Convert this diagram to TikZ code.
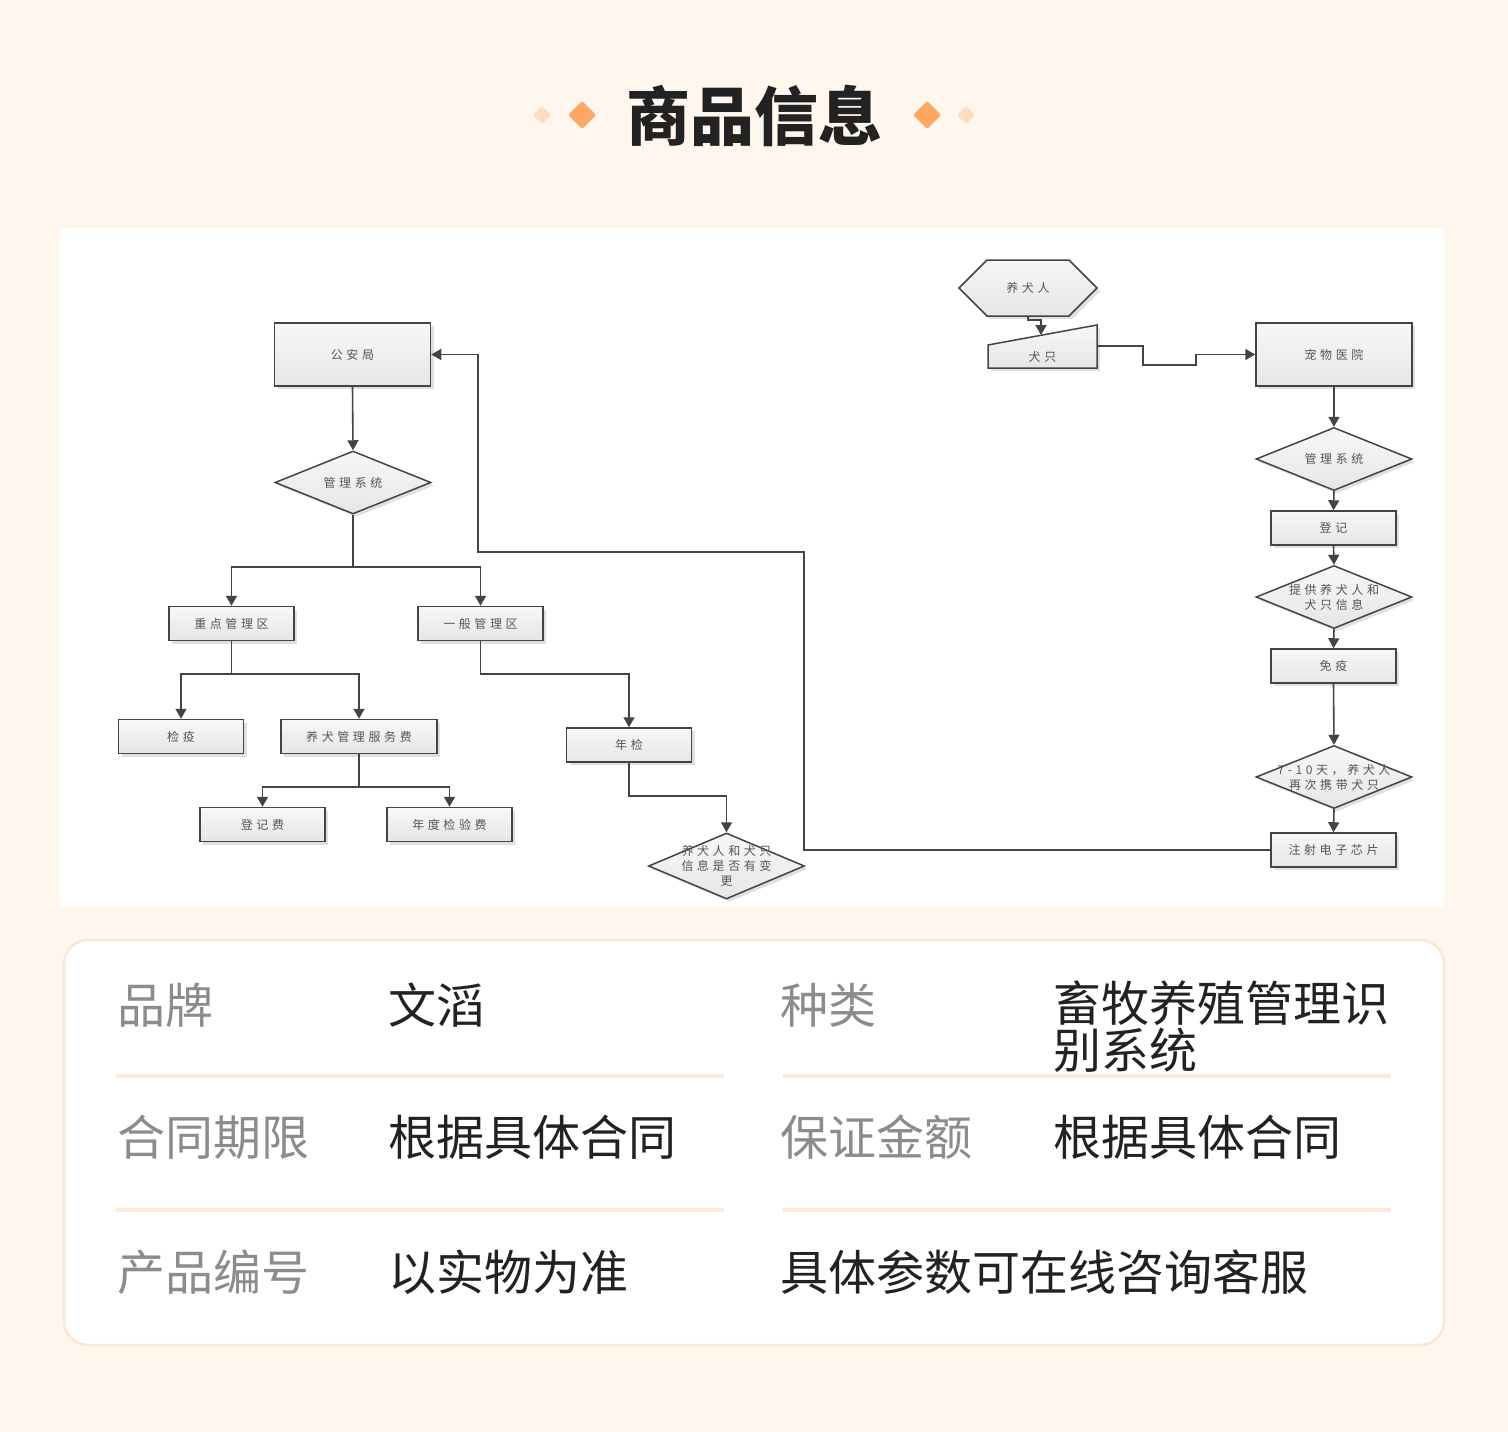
\documentclass[tikz,border=0pt]{standalone}
\usepackage{fontspec}
\setmainfont{Noto Sans CJK SC}
\newfontfamily\diafont{Noto Sans CJK SC}[LetterSpace=30]
\usetikzlibrary{arrows.meta,shapes.geometric,shadows,calc}
\definecolor{bgc}{HTML}{FFF6EE}
\definecolor{cardline}{HTML}{FCE6D4}
\definecolor{sepline}{HTML}{FDEADB}
\definecolor{orangeA}{HTML}{FDA865}
\definecolor{orangeB}{HTML}{FDDDC0}
\definecolor{linec}{HTML}{444444}
\definecolor{txtc}{HTML}{555555}
\definecolor{boxbot}{HTML}{E6E6E6}
\definecolor{labc}{HTML}{8C8C8C}
\definecolor{valc}{HTML}{222222}
\tikzset{
  shapebase/.style={draw=linec, line width=1.5pt, top color=white!97!black, bottom color=boxbot,
    drop shadow={shadow xshift=3pt, shadow yshift=-3pt, opacity=0.12, fill=black}},
  dtext/.style={font=\diafont\fontsize{12}{15}\selectfont, text=txtc, align=center},
  box/.style={shapebase, rectangle, minimum width=125pt, minimum height=34pt, inner sep=0pt, dtext},
  bigbox/.style={box, minimum width=156pt, minimum height=63pt},
  dia/.style={shapebase, diamond, minimum width=156pt, minimum height=63pt, inner sep=0pt,
    label={[dtext, inner sep=0pt]center:#1}},
  ghost/.style={rectangle, inner sep=0pt, dtext},
  arr/.style={draw=linec, line width=1.6pt, -{Triangle[width=11pt,length=10pt]}},
  lab/.style={anchor=base west, font=\fontsize{48}{48}\selectfont, text=labc, inner sep=0pt},
  val/.style={anchor=base west, font=\fontsize{48}{48}\selectfont, text=valc, inner sep=0pt},
  deco/.style={rounded corners=2pt}
}
\begin{document}
\begin{tikzpicture}[x=1pt,y=-1pt]
\useasboundingbox (0,0) rectangle (1508,1432);
\fill[bgc] (0,0) rectangle (1508,1432);

% title
\node[anchor=base, font=\fontsize{64}{64}\selectfont\bfseries, text=valc, inner sep=0pt] (title) at (754,140) {商品信息};
\fill[orangeB, deco] (542,106) -- (551,115) -- (542,124) -- (533,115) -- cycle;
\fill[orangeA, deco] (582,101) -- (596,115) -- (582,129) -- (568,115) -- cycle;
\fill[orangeA, deco] (927,101) -- (941,115) -- (927,129) -- (913,115) -- cycle;
\fill[orangeB, deco] (966,106) -- (975,115) -- (966,124) -- (957,115) -- cycle;

% diagram panel
\fill[white] (60,228) rectangle (1444,907);

% left part
\node[bigbox] (gaj) at (352.5,354.5) {公安局};
\node[dia={管理系统}] (gl1) at (353,482.5) {};
\node[box] (zd) at (231.5,623.5) {重点管理区};
\node[box] (yb) at (480.5,623.5) {一般管理区};
\node[box] (jy) at (181,736.5) {检疫};
\node[box, minimum width=156pt] (fw) at (359,736.5) {养犬管理服务费};
\node[box] (nj) at (629,745) {年检};
\node[box] (djf) at (262.5,824.5) {登记费};
\node[box] (ndf) at (449.5,824.5) {年度检验费};
\node[dia={养犬人和犬只\\信息是否有变\\更}, minimum height=66pt] (bg) at (726.5,866) {};

\draw[arr] (gaj.south) -- (gl1.north);
\draw[arr] (gl1.south) -- ++(0,52) -| (zd.north);
\draw[arr] (gl1.south) -- ++(0,52) -| (yb.north);
\draw[arr] (zd.south) -- ++(0,33) -| (jy.north);
\draw[arr] (zd.south) -- ++(0,33) -| (fw.north);
\draw[arr] (yb.south) -- ++(0,33) -| (nj.north);
\draw[arr] (fw.south) -- ++(0,33) -| (djf.north);
\draw[arr] (fw.south) -- ++(0,33) -| (ndf.north);
\draw[arr] (nj.south) -- ++(0,33) -| (bg.north);

% right part
\path[shapebase] (959,288) -- (987,260) -- (1069,260) -- (1097,288) -- (1069,316) -- (987,316) -- cycle;
\node[ghost, minimum width=138pt, minimum height=56pt] (owner) at (1028,288) {养犬人};
\path[shapebase] (988,345) -- (1097,325) -- (1097,368) -- (988,368) -- cycle;
\node[ghost, minimum width=109pt, minimum height=22pt] (dog) at (1042.5,357) {犬只};
\coordinate (dogtop) at (1041,335);

\node[bigbox] (hosp) at (1334,354.5) {宠物医院};
\node[dia={管理系统}] (gl2) at (1334,459) {};
\node[box] (dj) at (1333.5,528) {登记};
\node[dia={提供养犬人和\\犬只信息}] (tg) at (1334,597) {};
\node[box] (my) at (1333.5,666) {免疫};
\node[dia={7-10天，养犬人\\再次携带犬只}] (zc) at (1334,777) {};
\node[box] (chip) at (1333.5,850) {注射电子芯片};

\draw[arr] (owner.south) -- ++(0,4) -| (dogtop);
\draw[arr] (dog.east |- 0,346) -- ++(46,0) -- ++(0,19) -- ++(53,0) |- (hosp.west);
\draw[arr] (hosp.south) -- (gl2.north);
\draw[arr] (gl2.south) -- (dj.north);
\draw[arr] (dj.south) -- (tg.north);
\draw[arr] (tg.south) -- (my.north);
\draw[arr] (my.south) -- (zc.north);
\draw[arr] (zc.south) -- (chip.north);

\coordinate (c1) at (804,552);
\coordinate (c2) at (478,552);
\draw[arr] (chip.west) -| (c1) -- (c2) |- (gaj.east);

% info card
\draw[cardline, line width=2.5pt, fill=white, rounded corners=24pt] (64,940) rectangle (1444,1345);
\draw[sepline, line width=4pt] (116,1076) -- (724,1076);
\draw[sepline, line width=4pt] (783,1076) -- (1391,1076);
\draw[sepline, line width=4pt] (116,1210) -- (724,1210);
\draw[sepline, line width=4pt] (783,1210) -- (1391,1210);

\node[lab] (l1) at (117,1023) {品牌};
\node[val] (v1) at (388,1023) {文滔};
\node[lab] (l2) at (780,1023) {种类};
\node[val] (v2a) at (1053,1021) {畜牧养殖管理识};
\node[val] (v2b) at (1053,1068) {别系统};
\node[lab] (l3) at (117,1155) {合同期限};
\node[val] (v3) at (388,1155) {根据具体合同};
\node[lab] (l4) at (780,1155) {保证金额};
\node[val] (v4) at (1053,1155) {根据具体合同};
\node[lab] (l5) at (117,1290) {产品编号};
\node[val] (v5) at (388,1290) {以实物为准};
\node[val] (v6) at (780,1290) {具体参数可在线咨询客服};
\end{tikzpicture}
\end{document}
